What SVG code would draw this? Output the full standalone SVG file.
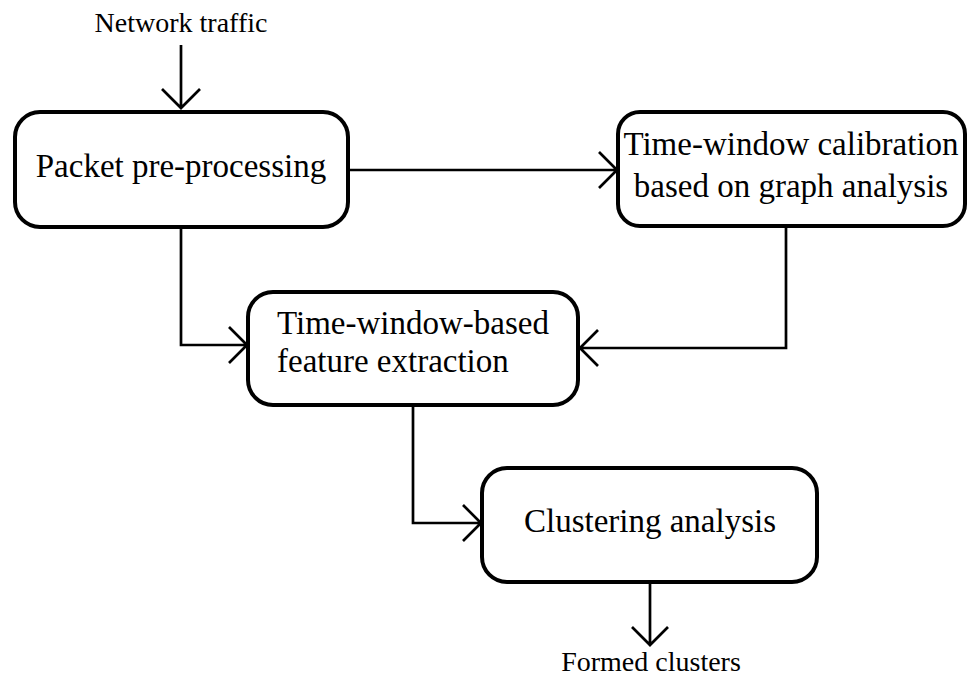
<svg xmlns="http://www.w3.org/2000/svg" width="967" height="680" viewBox="0 0 967 680">
<style>
.box{fill:#fff;stroke:#000;stroke-width:4}
.t{font-family:"Liberation Serif","Times New Roman",serif;font-size:33px;fill:#000}
.lbl{font-family:"Liberation Serif","Times New Roman",serif;font-size:28px;fill:#000}
.c{fill:none;stroke:#000;stroke-width:2.7}
</style>
<rect width="967" height="680" fill="#fff"/>
<g id="connectors">
<path class="c" d="M181,45 V108 M162,89 L181,108 L200,89"/>
<path class="c" d="M348,170 H617 M599,152 L617,170 L599,188"/>
<path class="c" d="M181,227 V345 H247 M229,327 L247,345 L229,363"/>
<path class="c" d="M786,226 V348 H580 M598,330 L580,348 L598,366"/>
<path class="c" d="M413,405 V523 H481 M463,505 L481,523 L463,541"/>
<path class="c" d="M650,582 V645 M632,627 L650,645 L668,627"/>
</g>
<g id="input"><text class="lbl" x="181" y="32" text-anchor="middle">Network traffic</text></g>
<g id="packet">
<rect class="box" x="15" y="112" width="333" height="115" rx="25"/>
<text class="t" x="181" y="177" text-anchor="middle">Packet pre-processing</text>
</g>
<g id="calibration">
<rect class="box" x="618" y="112" width="347" height="114" rx="22"/>
<text class="t" x="791" y="155" text-anchor="middle">Time-window calibration</text>
<text class="t" x="791" y="197" text-anchor="middle">based on graph analysis</text>
</g>
<g id="feature">
<rect class="box" x="248" y="292" width="330" height="113" rx="25"/>
<text class="t" x="277" y="334">Time-window-based</text>
<text class="t" x="277" y="372">feature extraction</text>
</g>
<g id="clustering">
<rect class="box" x="482" y="468" width="335" height="114" rx="25"/>
<text class="t" x="650" y="532" text-anchor="middle">Clustering analysis</text>
</g>
<g id="output"><text class="lbl" x="651" y="671" text-anchor="middle">Formed clusters</text></g>
</svg>
